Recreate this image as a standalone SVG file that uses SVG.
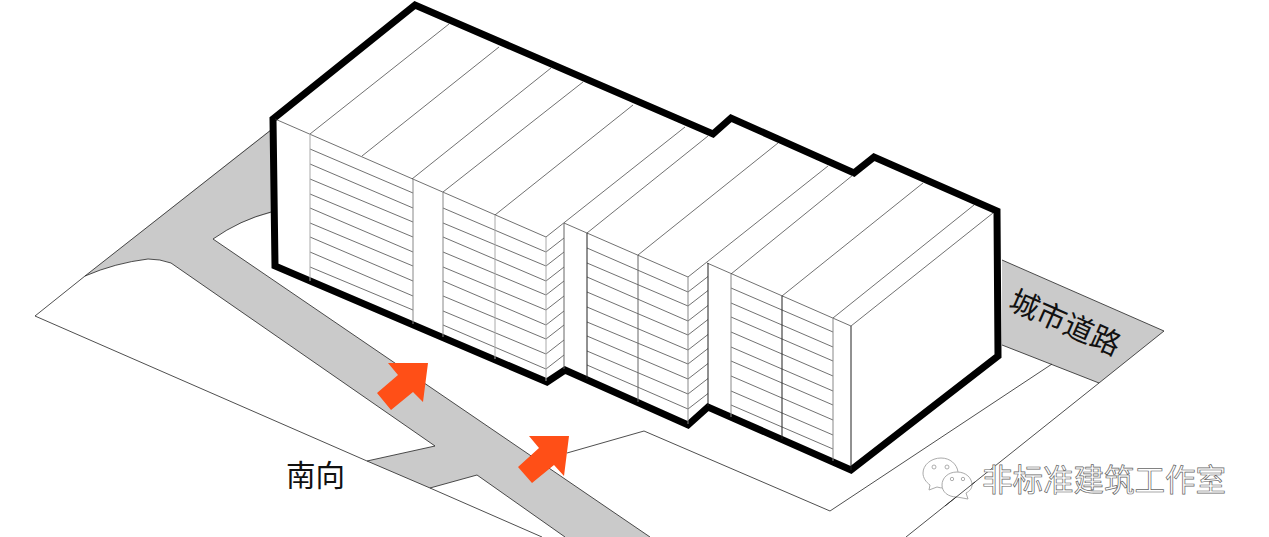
<svg xmlns="http://www.w3.org/2000/svg" width="1269" height="537" viewBox="0 0 1269 537">
<style>
.site{fill:none;stroke:#222;stroke-width:.8}
.road{fill:#cacaca;stroke:none}
.thin{fill:none;stroke:#333;stroke-width:.7}
.outline{fill:#fff;stroke:#000;stroke-width:7;stroke-linejoin:miter}
.arrow{fill:#ff4f17}
.label{font-family:"Noto Sans CJK SC","Liberation Sans",sans-serif;fill:#111;font-size:29.500px}
.wm{font-family:"Noto Sans CJK SC","Liberation Sans",sans-serif;fill:#fff;stroke:#666;stroke-width:.7;font-size:30.500px}
.wi{fill:#fff;stroke:#aaa;stroke-width:1}
.wd{fill:#fff;stroke:#999;stroke-width:.8}
</style>
<rect width="1269" height="537" fill="#fff"/>
<g id="site">
<path class="road" d="M85 276L270 130L275 212Q240 220 213 239L650 537H565L477 475L430 488L367 461L435 446L171 263Q160 259 148 259Q115 263 85 276Z"/>
<path class="road" d="M1002 260L1164 331L1099 383L1002 345Z"/>
<path class="site" d="M271 130L85 276L35 316L367 461L430 488L542 537"/>
<path class="site" d="M85 276Q115 263 148 259Q160 259 171 263L435 446L367 461"/>
<path class="site" d="M271 212Q240 220 213 239L650 537"/>
<path class="site" d="M430 488L477 475L565 537"/>
<path class="site" d="M567 453L644 431L830 511L1052 364"/>
<path class="site" d="M1002 260L1164 331L1099 383L1002 345"/>
<path class="site" d="M1099 383L906 537"/>
</g>
<g id="building">
<path class="outline" d="M273 119L415 5L713 134L731 118L854 173L874 157L997 211L998 356L851 470L708 407L688 425L565 370L547 382L275 266Z"/>
<g id="roof-lines">
<path class="thin" d="M275 119L546 237M564 223L688 277M707 263L851 326"/>
<path class="thin" d="M310 134L449 24M362 156L499 47M412 179L551 68M443 192L583 82M495 215L633 105M546 237L685 127M587 233L708 136M638 255L778 143M688 277L828 166M731 274L853 175M782 296L923 183M833 318L974 205M851 326L993 213"/>
</g>
<g id="floors">
<path class="thin" d="M310 149L413 193M310 164L413 208M310 179L413 222M310 194L413 237M310 208L413 252M310 223L413 266M310 237L413 281M310 252L413 296M310 267L413 310"/>
<path class="thin" d="M443 208L546 252L564 238M443 223L546 266L564 252M443 237L546 281L564 267M443 252L546 295L564 281M443 267L546 310L564 296M443 281L546 325L564 311M443 296L546 339L564 325M443 311L546 354L564 340M443 325L546 369L564 355"/>
<path class="thin" d="M587 248L688 292L708 276.500M587 263L688 306L708 290.500M587 277L688 321L708 305.500M587 292L688 335L708 319.500M587 307L688 350L708 334.500M587 322L688 364L708 348.500M587 336L688 379L708 363.500M587 351L688 394L708 378.500M587 365L688 409L708 393.500"/>
<path class="thin" d="M731 288L833 332M731 303L833 347M731 317L833 361M731 332L833 376M731 347L833 391M731 361L833 405M731 376L833 420M731 391L833 435M731 405L833 449"/>
</g>
<g id="columns" fill="none" stroke-width="1">
<path stroke="#aaa" d="M310 134V281M495 215V359M546 237V381"/>
<path stroke="#888" d="M413 179V324M443 192V337M688 277V424M731 274V417M833 318V461"/>
<path stroke="#666" d="M564 223V369M638 255V402"/>
<path stroke="#222" d="M587 233V379M708 263V406M782 296V439M851 326V470"/>
</g>
</g>
<g id="arrows">
<path class="arrow" d="M428 363H388L398 375L377 393L391 410L413 392L423 402Z"/>
<path class="arrow" d="M569 436H529L539 448L518 467L532 483L554 465L564 476Z"/>
</g>
<g id="labels">
<text class="label" x="286" y="486">南向</text>
<text class="label" transform="translate(1065 323) rotate(24)" x="0" y="10" text-anchor="middle">城市道路</text>
</g>
<g id="watermark">
<path class="wi" d="M941 458C931 458 923 465 923 473C923 478 926 482 930 485L929 490L937 487Q940 488 944 488L958 472C957 464 950 458 941 458Z"/>
<path class="wi" d="M957 472C948 472 942 478 942 485C942 492 948 497 957 497L968 499L966 493C970 491 972 488 972 485C972 478 966 472 957 472Z"/>
<circle class="wd" cx="934" cy="467" r="2"/><circle class="wd" cx="947" cy="467" r="2"/>
<circle class="wd" cx="952" cy="479" r="1.700"/><circle class="wd" cx="963" cy="479" r="1.700"/>
<path class="site" d="M975 482L945 506"/>
<text class="wm" x="982" y="491">非标准建筑工作室</text>
</g>
</svg>
